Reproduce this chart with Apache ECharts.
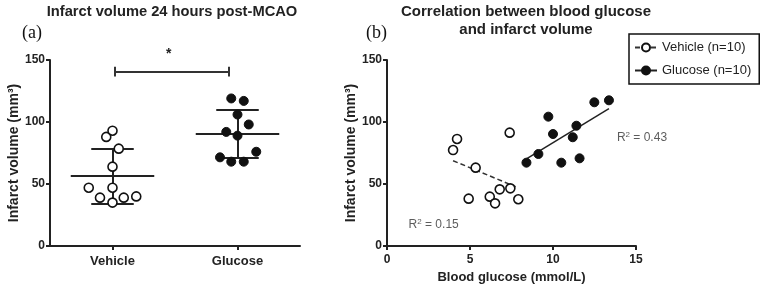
<!DOCTYPE html>
<html><head><meta charset="utf-8">
<script src="https://cdn.jsdelivr.net/npm/echarts@6/dist/echarts.min.js"></script>
<style>html,body{margin:0;padding:0;background:#fff}#c{width:763px;height:291px}</style>
</head><body><div id="c"></div>
<script>
// ---- data ----
const groups = ['Vehicle', 'Glucose'];
const yTicks = [0, 50, 100, 150];
// panel (a): x = group position (value axis 0..2, groups centred at 0.5 / 1.5), y = infarct volume
const vehicleA = [[0.45, 88], [0.50, 93], [0.55, 78.5], [0.50, 64], [0.31, 47], [0.50, 47], [0.40, 39], [0.50, 35], [0.59, 39], [0.69, 40]];
const glucoseA = [[1.45, 119], [1.55, 117], [1.50, 106], [1.59, 98], [1.41, 92], [1.50, 89], [1.65, 76], [1.36, 71.5], [1.45, 68], [1.55, 68]];
const vehicleStats = { centre: 0.5, mean: 56.7, upper: 78.5, lower: 34.4 };
const glucoseStats = { centre: 1.5, mean: 90.9, upper: 109.7, lower: 71.2 };
const signif = { from: 0.52, to: 1.43, y: 140.6, star: '*', starX: 0.95, starY: 155 };
// panel (b): blood glucose (mmol/L), infarct volume (mm3)
const vehicleB = [[4.22, 86.3], [3.98, 77.4], [5.34, 63.2], [7.39, 91.4], [6.79, 45.7], [7.43, 46.5], [4.92, 38.2], [6.19, 39.8], [6.51, 34.4], [7.91, 37.7]];
const glucoseB = [[9.72, 104.3], [12.49, 115.9], [13.37, 117.5], [11.41, 97], [10.0, 90.3], [11.19, 87.7], [9.12, 74.2], [8.40, 67.2], [10.5, 67.2], [11.6, 70.7]];
const vehicleFit = [[3.98, 68.8], [7.75, 47.8]];
const glucoseFit = [[8.4, 70.2], [13.37, 110.7]];
const r2Vehicle = { text: '0.15', x: 1.3, y: 17 };
const r2Glucose = { text: '0.43', x: 13.85, y: 87 };
const xTicksB = [0, 5, 10, 15];

// ---- chart ----
const ink = '#222';
const font = '"Liberation Sans", Arial, sans-serif';
const axisLine = { show: true, lineStyle: { color: ink, width: 2 } };
const axisTick = { show: true, length: 4, lineStyle: { color: ink, width: 2 } };
const tickLabel = { color: ink, fontFamily: font, fontWeight: 'bold', fontSize: 12 };
const openStyle = { color: '#fff', borderColor: '#111', borderWidth: 1.6, opacity: 1 };
const fillStyle = { color: '#111', borderColor: '#111', borderWidth: 1, opacity: 1 };
const nameStyle = { fontFamily: font, fontWeight: 'bold', fontSize: 14, color: ink };

function statSegments(s) {
  return [
    { coords: [[s.centre - 0.334, s.mean], [s.centre + 0.334, s.mean]] },
    { coords: [[s.centre - 0.17, s.upper], [s.centre + 0.17, s.upper]] },
    { coords: [[s.centre - 0.17, s.lower], [s.centre + 0.17, s.lower]] },
    { coords: [[s.centre, s.lower], [s.centre, s.upper]] }
  ];
}

const chart = echarts.init(document.getElementById('c'), null, { renderer: 'canvas' });
chart.setOption({
  animation: false,
  backgroundColor: '#fff',
  title: [
    { text: 'Infarct volume 24 hours post-MCAO', left: 167, top: -1, textAlign: 'center',
      textStyle: { fontFamily: font, fontWeight: 'bold', fontSize: 14.7, color: ink } },
    { text: '(a)', left: 17, top: 19, textStyle: { fontFamily: '"Liberation Serif", serif', fontWeight: 'normal', fontSize: 18, color: '#111' } },
    { text: 'Correlation between blood glucose\nand infarct volume', left: 521, top: -2, textAlign: 'center',
      textStyle: { fontFamily: font, fontWeight: 'bold', fontSize: 15, color: ink, lineHeight: 18 } },
    { text: '(b)', left: 361, top: 19, textStyle: { fontFamily: '"Liberation Serif", serif', fontWeight: 'normal', fontSize: 18, color: '#111' } }
  ],
  legend: {
    data: ['Vehicle (n=10)', 'Glucose (n=10)'],
    orient: 'vertical', left: 629, top: 34,
    borderColor: '#111', borderWidth: 1.5,
    padding: [7, 8, 7, 5],
    itemGap: 10, itemWidth: 22, itemHeight: 10,
    textStyle: { fontFamily: font, fontSize: 13, color: ink }
  },
  grid: [
    { left: 50, top: 60, width: 250, height: 186 },
    { left: 387, top: 60, width: 249, height: 186 }
  ],
  xAxis: [
    { type: 'category', gridIndex: 0, data: groups, boundaryGap: true,
      axisLine, axisTick: Object.assign({ alignWithLabel: true }, axisTick),
      axisLabel: Object.assign({}, tickLabel, { margin: 9, fontSize: 13 }), splitLine: { show: false } },
    { type: 'value', gridIndex: 0, min: 0, max: 2, show: false },
    { type: 'value', gridIndex: 1, min: 0, max: 15, interval: 5,
      axisLine, axisTick, axisLabel: Object.assign({ margin: 8 }, tickLabel), splitLine: { show: false },
      name: 'Blood glucose (mmol/L)', nameLocation: 'middle', nameGap: 24,
      nameTextStyle: Object.assign({}, nameStyle, { fontSize: 13 }) }
  ],
  yAxis: [
    { type: 'value', gridIndex: 0, min: 0, max: 150, interval: 50,
      axisLine, axisTick, axisLabel: Object.assign({ margin: 5 }, tickLabel), splitLine: { show: false },
      name: 'Infarct volume (mm³)', nameLocation: 'middle', nameGap: 27, nameTextStyle: nameStyle },
    { type: 'value', gridIndex: 1, min: 0, max: 150, interval: 50,
      axisLine, axisTick, axisLabel: Object.assign({ margin: 5 }, tickLabel), splitLine: { show: false },
      name: 'Infarct volume (mm³)', nameLocation: 'middle', nameGap: 26, nameTextStyle: nameStyle }
  ],
  series: [
    // panel (a) mean / SD bars
    { type: 'lines', coordinateSystem: 'cartesian2d', xAxisIndex: 1, yAxisIndex: 0, silent: true,
      lineStyle: { color: ink, width: 2, opacity: 1 },
      data: statSegments(vehicleStats).concat(statSegments(glucoseStats)) },
    // significance bracket
    { type: 'lines', coordinateSystem: 'cartesian2d', xAxisIndex: 1, yAxisIndex: 0, silent: true,
      lineStyle: { color: '#333', width: 2, opacity: 1 },
      data: [
        { coords: [[signif.from, signif.y], [signif.to, signif.y]] },
        { coords: [[signif.from, signif.y - 4], [signif.from, signif.y + 4]] },
        { coords: [[signif.to, signif.y - 4], [signif.to, signif.y + 4]] }
      ] },
    { type: 'scatter', xAxisIndex: 1, yAxisIndex: 0, symbolSize: 2, silent: true, clip: false,
      itemStyle: { color: 'rgba(0,0,0,0)', opacity: 1 },
      data: [[signif.starX, signif.starY]],
      label: { show: true, position: 'inside', formatter: signif.star, fontFamily: font, fontWeight: 'bold', fontSize: 14, color: ink } },
    { type: 'scatter', xAxisIndex: 1, yAxisIndex: 0, symbol: 'circle', symbolSize: 9, itemStyle: openStyle, data: vehicleA, z: 5 },
    { type: 'scatter', xAxisIndex: 1, yAxisIndex: 0, symbol: 'circle', symbolSize: 9, itemStyle: fillStyle, data: glucoseA, z: 5 },
    // panel (b)
    { name: 'Vehicle (n=10)', type: 'line', xAxisIndex: 2, yAxisIndex: 1, data: vehicleFit,
      symbol: 'circle', symbolSize: 8, showSymbol: false, itemStyle: openStyle,
      lineStyle: { color: '#333', width: 1.5, type: [5, 3] } },
    { name: 'Glucose (n=10)', type: 'line', xAxisIndex: 2, yAxisIndex: 1, data: glucoseFit,
      symbol: 'circle', symbolSize: 8, showSymbol: false, itemStyle: fillStyle,
      lineStyle: { color: '#222', width: 1.5 } },
    { type: 'scatter', xAxisIndex: 2, yAxisIndex: 1, symbol: 'circle', symbolSize: 9, itemStyle: openStyle, data: vehicleB, z: 5 },
    { type: 'scatter', xAxisIndex: 2, yAxisIndex: 1, symbol: 'circle', symbolSize: 9, itemStyle: fillStyle, data: glucoseB, z: 5 },
    { type: 'scatter', xAxisIndex: 2, yAxisIndex: 1, symbolSize: 0, silent: true,
      data: [[r2Vehicle.x, r2Vehicle.y, r2Vehicle.text], [r2Glucose.x, r2Glucose.y, r2Glucose.text]],
      label: { show: true, position: 'right', distance: 0,
        formatter: p => 'R{sup|2} = ' + p.value[2],
        fontFamily: font, fontSize: 12, color: '#333',
        rich: { sup: { fontSize: 8, verticalAlign: 'top', padding: [0, 0, 7, 0], fontFamily: font, color: '#333' } } } }
  ]
});
</script></body></html>
